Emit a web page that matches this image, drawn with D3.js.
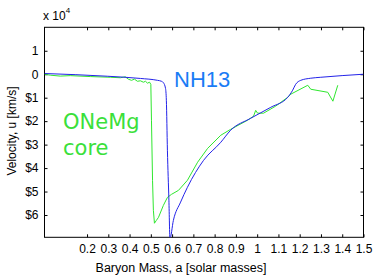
<!DOCTYPE html>
<html>
<head>
<meta charset="utf-8">
<script src="https://cdn.jsdelivr.net/npm/d3@7"></script>
<style>
  body { margin: 0; background: #fff; }
  text { font-family: "Liberation Sans", Arial, sans-serif; }
</style>
</head>
<body>
<script>
// velocity in units of 1e4 km/s
var blueMass = [0, 0.295, 0.451, 0.531, 0.55, 0.559, 0.569, 0.573, 0.578, 0.585, 0.59,
  0.606, 0.64, 0.672, 0.748, 0.829, 0.875, 0.969, 1.064, 1.144, 1.167, 1.181, 1.205, 1.252, 1.299, 1.5];
var blueVel = [0.03, -0.085, -0.18, -0.26, -0.3, -0.36, -0.6, -1.11, -3.24, -5.37, -7.0,
  -6.23, -5.45, -4.82, -3.67, -2.9, -2.39, -1.88, -1.41, -0.98, -0.68, -0.43, -0.26, -0.17, -0.13, 0.0];

var greenMass = [0, 0.027, 0.074, 0.121, 0.215, 0.31, 0.357, 0.38, 0.394, 0.409, 0.423, 0.437,
  0.451, 0.465, 0.475, 0.484, 0.494, 0.5, 0.503, 0.508, 0.512, 0.517, 0.526, 0.536, 0.559, 0.578,
  0.597, 0.63, 0.672, 0.72, 0.767, 0.829, 0.875, 0.955, 0.983, 0.993, 1.002, 1.03, 1.087, 1.144,
  1.158, 1.238, 1.252, 1.332, 1.356, 1.379];
var greenVel = [0, -0.04, -0.08, -0.06, -0.1, -0.13, -0.15, -0.11, -0.21, -0.26, -0.21, -0.3,
  -0.28, -0.34, -0.3, -0.38, -0.34, -0.43, -1.96, -4.52, -5.8, -6.35, -6.23, -6.1, -5.59, -5.25,
  -5.12, -4.95, -4.52, -3.75, -3.16, -2.6, -2.35, -1.96, -1.79, -1.54, -1.66, -1.66, -1.36, -0.98,
  -0.85, -0.47, -0.64, -0.77, -1.15, -0.47];

var xTicks = [0.2, 0.3, 0.4, 0.5, 0.6, 0.7, 0.8, 0.9, 1, 1.1, 1.2, 1.3, 1.4, 1.5];
var yTicks = [1, 0, -1, -2, -3, -4, -5, -6];

var W = 374, H = 279;
var plotL = 44.5, plotR = 363.5, plotT = 27.3, plotB = 237.3;

var svg = d3.select("body").append("svg")
  .attr("width", W)
  .attr("height", H);

var x = d3.scaleLinear().domain([0, 1.5]).range([plotL, plotR]);
var y = d3.scaleLinear().domain([-6.95, 2]).range([plotB, plotT]);

svg.append("clipPath").attr("id", "plot")
  .append("rect")
  .attr("x", plotL).attr("y", plotT)
  .attr("width", plotR - plotL).attr("height", plotB - plotT);

function fmtY(d) { return d < 0 ? "$" + (-d) : String(d); }
function fmtX(d) { return String(d); }

// axes, ticks pointing inward
svg.append("g")
  .attr("transform", "translate(0," + plotB + ")")
  .call(d3.axisBottom(x).tickValues(xTicks).tickFormat(fmtX).tickSizeInner(-3).tickSizeOuter(0).tickPadding(7));
svg.append("g")
  .attr("transform", "translate(0," + plotT + ")")
  .call(d3.axisTop(x).tickValues(xTicks).tickFormat("").tickSizeInner(-3).tickSizeOuter(0));
svg.append("g")
  .attr("transform", "translate(" + plotL + ",0)")
  .call(d3.axisLeft(y).tickValues(yTicks).tickFormat(fmtY).tickSizeInner(-3).tickSizeOuter(0).tickPadding(6));
svg.append("g")
  .attr("transform", "translate(" + plotR + ",0)")
  .call(d3.axisRight(y).tickValues(yTicks).tickFormat("").tickSizeInner(-3).tickSizeOuter(0));

svg.selectAll(".domain").remove();
svg.selectAll(".tick line").attr("stroke", "#000");
svg.selectAll(".tick text")
  .attr("fill", "#000")
  .style("font-size", "12px")
  .style("font-family", "'Liberation Sans', Arial, sans-serif");

svg.append("rect")
  .attr("x", plotL).attr("y", plotT)
  .attr("width", plotR - plotL).attr("height", plotB - plotT)
  .attr("fill", "none")
  .attr("stroke", "#000")
  .attr("stroke-width", 1);

var line = d3.line()
  .x(function(d) { return x(d[0]); })
  .y(function(d) { return y(d[1]); });

var greenData = d3.zip(greenMass, greenVel);
var blueData = d3.zip(blueMass, blueVel);

svg.append("path")
  .datum(greenData)
  .attr("clip-path", "url(#plot)")
  .attr("d", line)
  .attr("fill", "none")
  .attr("stroke", "#2fe62f")
  .attr("stroke-width", 1);

svg.append("path")
  .datum(blueData)
  .attr("clip-path", "url(#plot)")
  .attr("d", line.curve(d3.curveMonotoneX))
  .attr("fill", "none")
  .attr("stroke", "#2323e8")
  .attr("stroke-width", 1);

// multiplier
var mult = svg.append("text")
  .attr("x", 43).attr("y", 20)
  .style("font-size", "12px")
  .attr("fill", "#000");
mult.append("tspan").text("x 10");
mult.append("tspan").attr("dy", -7).style("font-size", "8px").text("4");

// axis labels
svg.append("text")
  .attr("x", 181).attr("y", 272)
  .attr("text-anchor", "middle")
  .style("font-size", "12.5px")
  .text("Baryon Mass, a [solar masses]");

svg.append("text")
  .attr("transform", "translate(16,131) rotate(-90)")
  .attr("text-anchor", "middle")
  .style("font-size", "12px")
  .text("Velocity, u [km/s]");

// annotations
svg.append("text")
  .attr("x", 174).attr("y", 87)
  .attr("fill", "#1a7cf5")
  .style("font-size", "22px")
  .style("font-family", "'Liberation Sans', Arial, sans-serif")
  .text("NH13");

svg.append("text")
  .attr("x", 63).attr("y", 128.5)
  .attr("fill", "#3ae03a")
  .style("font-size", "21px")
  .style("font-family", "'DejaVu Sans', sans-serif")
  .text("ONeMg");

svg.append("text")
  .attr("x", 63).attr("y", 155)
  .attr("fill", "#3ae03a")
  .style("font-size", "21px")
  .style("font-family", "'DejaVu Sans', sans-serif")
  .text("core");
</script>
</body>
</html>
